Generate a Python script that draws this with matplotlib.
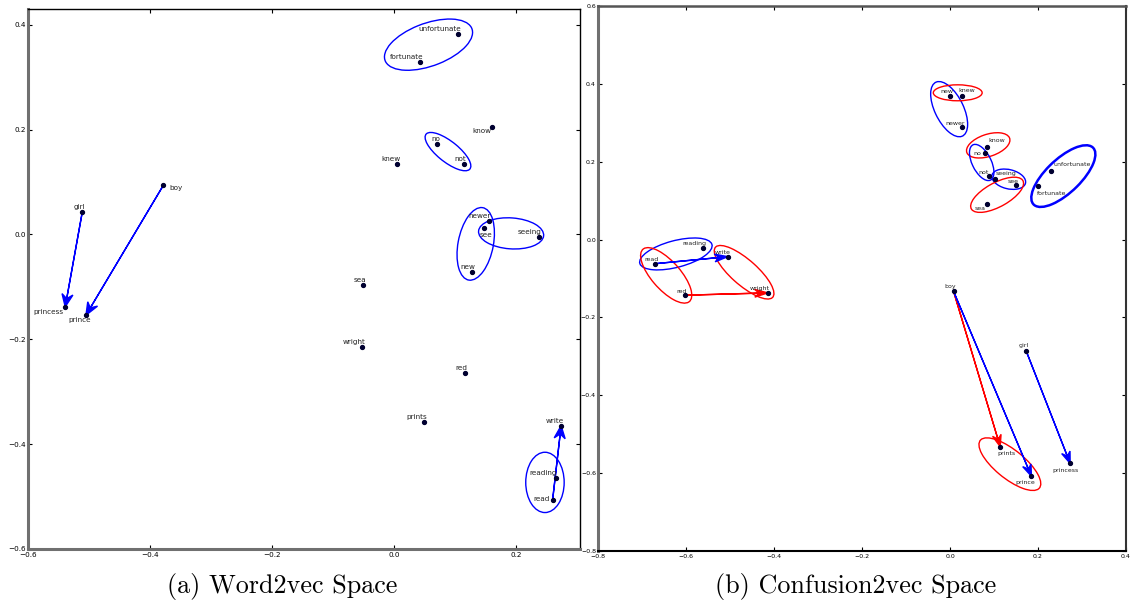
import numpy as np
import matplotlib
matplotlib.use("Agg")
import matplotlib.pyplot as plt
from matplotlib.patches import Ellipse

# word2vec projection (left)
w2v_words = ["boy", "girl", "princess", "prince", "unfortunate", "fortunate",
             "know", "no", "not", "knew", "newer", "see", "seeing", "new",
             "sea", "wright", "red", "prints", "write", "reading", "read"]
w2v_x = [-0.378, -0.511, -0.539, -0.505, 0.105, 0.043, 0.161, 0.070, 0.114,
         0.005, 0.155, 0.148, 0.237, 0.128, -0.051, -0.052, 0.116, 0.050,
         0.274, 0.265, 0.260]
w2v_y = [0.094, 0.043, -0.138, -0.154, 0.383, 0.328, 0.204, 0.172, 0.134,
         0.135, 0.026, 0.013, -0.005, -0.071, -0.097, -0.214, -0.264, -0.357,
         -0.365, -0.465, -0.507]

# confusion2vec projection (right)
c2v_words = ["read", "reading", "write", "red", "wright", "new", "knew", "newer",
             "know", "no", "not", "seeing", "see", "sea", "unfortunate",
             "fortunate", "boy", "girl", "princess", "prints", "prince"]
c2v_x = [-0.670, -0.561, -0.505, -0.603, -0.414, 0.001, 0.028, 0.027, 0.083,
         0.080, 0.088, 0.103, 0.151, 0.083, 0.230, 0.199, 0.008, 0.173, 0.273,
         0.114, 0.185]
c2v_y = [-0.062, -0.021, -0.044, -0.143, -0.137, 0.368, 0.368, 0.288, 0.238,
         0.222, 0.162, 0.156, 0.139, 0.092, 0.177, 0.137, -0.133, -0.286,
         -0.575, -0.532, -0.608]

# analogy arrows (from, to, colour)
w2v_arrows = [("girl", "princess", "blue"), ("boy", "prince", "blue"),
              ("read", "write", "blue")]
c2v_arrows = [("read", "write", "blue"), ("red", "wright", "red"),
              ("boy", "prints", "red"), ("boy", "prince", "blue"),
              ("girl", "princess", "blue")]

# cluster ellipses: centre x, centre y, width, height, angle, colour
w2v_ell = [(0.0566, 0.362, 0.155, 0.080, 25, "blue"),
           (0.0885, 0.158, 0.098, 0.037, -44, "blue"),
           (0.134, -0.018, 0.140, 0.058, 81, "blue"),
           (0.192, 0.002, 0.107, 0.059, -5, "blue"),
           (0.2475, -0.473, 0.063, 0.115, 0, "blue")]
c2v_ell = [(-0.623, -0.037, 0.171, 0.068, 17, "blue"),
           (-0.645, -0.092, 0.171, 0.068, -53, "red"),
           (-0.468, -0.084, 0.183, 0.062, -45.5, "red"),
           (-0.002, 0.335, 0.151, 0.066, -67.5, "blue"),
           (0.0175, 0.377, 0.111, 0.041, 0, "red"),
           (0.0868, 0.242, 0.104, 0.056, 22, "red"),
           (0.072, 0.198, 0.099, 0.044, -67.5, "blue"),
           (0.1334, 0.155, 0.079, 0.049, -17, "blue"),
           (0.107, 0.115, 0.138, 0.060, 33, "red"),
           (0.2575, 0.163, 0.199, 0.082, 48.4, "blue"),
           (0.136, -0.577, 0.182, 0.070, -43.5, "red")]

# label offsets in pixels (dx right, dy down) of text centre from the point
w2v_lab = {"boy": (13, 3), "girl": (-3, -5), "princess": (-17, 5),
           "prince": (-6, 5), "unfortunate": (-18, -5), "fortunate": (-14, -5),
           "know": (-10, 4), "no": (-1, -5), "not": (-3, -5), "knew": (-6, -5),
           "newer": (-9, -5), "see": (2, 7), "seeing": (-9, -5), "new": (-4, -5),
           "sea": (-3, -5), "wright": (-8, -5), "red": (-3, -5),
           "prints": (-8, -5), "write": (-6, -5), "reading": (-13, -5),
           "read": (-11, -1)}
c2v_lab = {"read": (-4, -4), "reading": (-9, -4), "write": (-5, -4),
           "red": (-3, -4), "wright": (-8, -4), "new": (-4, -5),
           "knew": (4, -6), "newer": (-7, -4), "know": (10, -6), "no": (-8, 0),
           "not": (-5, -4), "seeing": (11, -5), "see": (-3, -4), "sea": (-6, 5),
           "unfortunate": (21, -6), "fortunate": (14, 7), "boy": (-3, -5),
           "girl": (-2, -5), "princess": (-5, 7), "prints": (6, 7),
           "prince": (-6, 6)}


def draw_space(ax, words, xs, ys, arrows, ells, labels, fs, head):
    pos = dict(zip(words, zip(xs, ys)))
    for cx, cy, w, h, ang, col in ells:
        lw = 1.8 if w > 0.19 else 1.0
        ax.add_patch(Ellipse((cx, cy), w, h, angle=ang, fill=False,
                             edgecolor=col, lw=lw, zorder=2))
    for a, b, col in arrows:
        x0, y0 = pos[a]
        x1, y1 = pos[b]
        ax.arrow(x0, y0, x1 - x0, y1 - y0, color=col, lw=1.0, width=0.0,
                 head_width=head[0], head_length=head[1], overhang=0.35,
                 length_includes_head=True, zorder=3)
    ax.plot(xs, ys, "o", color="#000030", ms=2.8, zorder=4)
    for w in words:
        dx, dy = labels[w]
        ax.annotate(w, pos[w], xytext=(dx, -dy), textcoords="offset pixels",
                    ha="center", va="center", fontsize=fs, color="#222222",
                    zorder=5)
    ax.tick_params(direction="in", length=3, width=0.8, top=True, right=True,
                   labelsize=fs)


fig = plt.figure(figsize=(11.3, 6.05), dpi=100)
ax1 = fig.add_axes([0.0248, 0.0926, 0.4885, 0.8925])
ax2 = fig.add_axes([0.5292, 0.0893, 0.4673, 0.9008])

draw_space(ax1, w2v_words, w2v_x, w2v_y, w2v_arrows, w2v_ell, w2v_lab, 5.2,
           (0.018, 0.024))
ax1.set_xlim(-0.6, 0.305)
ax1.set_ylim(-0.6, 0.43)
ax1.set_xticks(np.arange(-0.6, 0.21, 0.2))
ax1.set_yticks(np.arange(-0.6, 0.41, 0.2))

draw_space(ax2, c2v_words, c2v_x, c2v_y, c2v_arrows, c2v_ell, c2v_lab, 4.5,
           (0.02, 0.03))
ax2.set_xlim(-0.8, 0.4)
ax2.set_ylim(-0.8, 0.6)
ax2.set_xticks(np.arange(-0.8, 0.41, 0.2))
ax2.set_yticks(np.arange(-0.8, 0.61, 0.2))

for ax in (ax1, ax2):
    ax.tick_params(axis="y", pad=1.5)
    ax.tick_params(axis="x", pad=2)

ax1.spines["left"].set(color="#707070", lw=2.2)
ax1.spines["bottom"].set(color="#707070", lw=2.2)
ax1.spines["top"].set(color="black", lw=1.0)
ax1.spines["right"].set(color="black", lw=1.0)
ax2.spines["left"].set(color="#707070", lw=2.2)
ax2.spines["top"].set(color="#555555", lw=1.8)
ax2.spines["right"].set(color="#333333", lw=1.5)
ax2.spines["bottom"].set(color="black", lw=1.5)

fig.text(0.250, 0.031, "(a) Word2vec Space", family="cmr10", fontsize=18.8,
         ha="center", va="center")
fig.text(0.757, 0.031, "(b) Confusion2vec Space", family="cmr10",
         fontsize=18.8, ha="center", va="center")

fig.savefig("out.png", dpi=100)
